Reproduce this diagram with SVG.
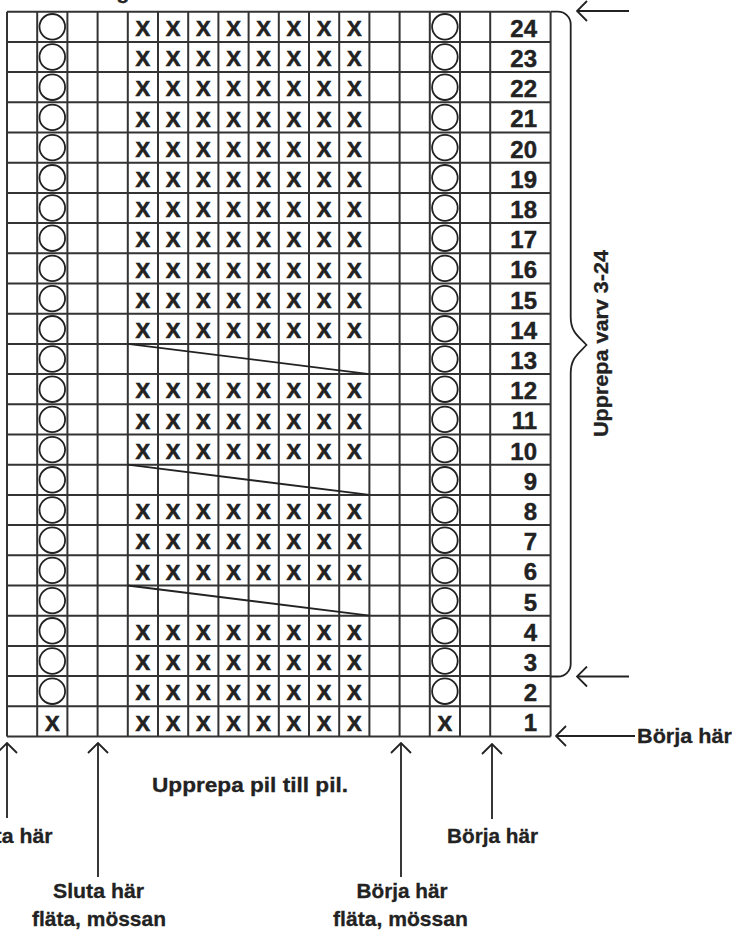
<svg xmlns="http://www.w3.org/2000/svg" width="732" height="931" viewBox="0 0 732 931">
<style>
.grid{fill:none;stroke:#333;stroke-width:2}
.diag{fill:none;stroke:#222;stroke-width:1.8}
.circ{fill:none;stroke:#222;stroke-width:1.8}
.x{font-family:"Liberation Sans",Arial,sans-serif;font-weight:bold;font-size:22px;fill:#222;stroke:#222;stroke-width:0.6;text-anchor:middle}
.num{font-family:"Liberation Sans",Arial,sans-serif;font-weight:bold;font-size:24px;fill:#222;stroke:#222;stroke-width:0.4;text-anchor:end}
.lbl{font-family:"Liberation Sans",Arial,sans-serif;font-weight:bold;font-size:21px;fill:#222;stroke:#222;stroke-width:0.3;text-anchor:middle}
.arr{fill:none;stroke:#222;stroke-width:1.8}
</style>
<defs>
<marker id="open" viewBox="0 0 12 22" refX="1" refY="11" markerWidth="12" markerHeight="22" markerUnits="userSpaceOnUse" orient="auto">
<path d="M11 1L1 11L11 21" fill="none" stroke="#222" stroke-width="1.8"/>
</marker>
</defs>
<rect width="732" height="931" fill="#fff"/>
<text class="lbl" x="123" y="-1">g</text>
<g id="grid">
<path class="grid" d="M7 11.7H550.6M7 41.9H550.6M7 72.1H550.6M7 102.3H550.6M7 132.5H550.6M7 162.7H550.6M7 192.9H550.6M7 223.1H550.6M7 253.3H550.6M7 283.5H550.6M7 313.7H550.6M7 343.9H550.6M7 374.1H550.6M7 404.3H550.6M7 434.5H550.6M7 464.7H550.6M7 494.9H550.6M7 525.1H550.6M7 555.3H550.6M7 585.5H550.6M7 615.7H550.6M7 645.9H550.6M7 676.1H550.6M7 706.3H550.6M7 736.5H550.6
M7 11.7V736.5M37.2 11.7V736.5M67.4 11.7V736.5M97.6 11.7V736.5M127.8 11.7V736.5M158 11.7V736.5M188.2 11.7V736.5M218.4 11.7V736.5M248.6 11.7V736.5M278.8 11.7V736.5M309 11.7V736.5M339.2 11.7V736.5M369.4 11.7V736.5M399.6 11.7V736.5M429.8 11.7V736.5M460 11.7V736.5M490.2 11.7V736.5M550.6 11.7V736.5"/>
<path class="diag" d="M127.8 343.9L369.4 374.1M127.8 464.7L369.4 494.9M127.8 585.5L369.4 615.7"/>
</g>
<g id="circles">
<g class="circ">
<circle cx="52.3" cy="26.8" r="12.8"/><circle cx="52.3" cy="57" r="12.8"/><circle cx="52.3" cy="87.2" r="12.8"/><circle cx="52.3" cy="117.4" r="12.8"/><circle cx="52.3" cy="147.6" r="12.8"/><circle cx="52.3" cy="177.8" r="12.8"/><circle cx="52.3" cy="208" r="12.8"/><circle cx="52.3" cy="238.2" r="12.8"/><circle cx="52.3" cy="268.4" r="12.8"/><circle cx="52.3" cy="298.6" r="12.8"/><circle cx="52.3" cy="328.8" r="12.8"/><circle cx="52.3" cy="359" r="12.8"/><circle cx="52.3" cy="389.2" r="12.8"/><circle cx="52.3" cy="419.4" r="12.8"/><circle cx="52.3" cy="449.6" r="12.8"/><circle cx="52.3" cy="479.8" r="12.8"/><circle cx="52.3" cy="510" r="12.8"/><circle cx="52.3" cy="540.2" r="12.8"/><circle cx="52.3" cy="570.4" r="12.8"/><circle cx="52.3" cy="600.6" r="12.8"/><circle cx="52.3" cy="630.8" r="12.8"/><circle cx="52.3" cy="661" r="12.8"/><circle cx="52.3" cy="691.2" r="12.8"/>
<circle cx="444.9" cy="26.8" r="12.8"/><circle cx="444.9" cy="57" r="12.8"/><circle cx="444.9" cy="87.2" r="12.8"/><circle cx="444.9" cy="117.4" r="12.8"/><circle cx="444.9" cy="147.6" r="12.8"/><circle cx="444.9" cy="177.8" r="12.8"/><circle cx="444.9" cy="208" r="12.8"/><circle cx="444.9" cy="238.2" r="12.8"/><circle cx="444.9" cy="268.4" r="12.8"/><circle cx="444.9" cy="298.6" r="12.8"/><circle cx="444.9" cy="328.8" r="12.8"/><circle cx="444.9" cy="359" r="12.8"/><circle cx="444.9" cy="389.2" r="12.8"/><circle cx="444.9" cy="419.4" r="12.8"/><circle cx="444.9" cy="449.6" r="12.8"/><circle cx="444.9" cy="479.8" r="12.8"/><circle cx="444.9" cy="510" r="12.8"/><circle cx="444.9" cy="540.2" r="12.8"/><circle cx="444.9" cy="570.4" r="12.8"/><circle cx="444.9" cy="600.6" r="12.8"/><circle cx="444.9" cy="630.8" r="12.8"/><circle cx="444.9" cy="661" r="12.8"/><circle cx="444.9" cy="691.2" r="12.8"/>
</g>
</g>
<g id="crosses" class="x">
<text x="142.9 173.1 203.3 233.5 263.7 293.9 324.1 354.3" y="36">XXXXXXXX</text>
<text x="142.9 173.1 203.3 233.5 263.7 293.9 324.1 354.3" y="66.2">XXXXXXXX</text>
<text x="142.9 173.1 203.3 233.5 263.7 293.9 324.1 354.3" y="96.4">XXXXXXXX</text>
<text x="142.9 173.1 203.3 233.5 263.7 293.9 324.1 354.3" y="126.6">XXXXXXXX</text>
<text x="142.9 173.1 203.3 233.5 263.7 293.9 324.1 354.3" y="156.8">XXXXXXXX</text>
<text x="142.9 173.1 203.3 233.5 263.7 293.9 324.1 354.3" y="187">XXXXXXXX</text>
<text x="142.9 173.1 203.3 233.5 263.7 293.9 324.1 354.3" y="217.2">XXXXXXXX</text>
<text x="142.9 173.1 203.3 233.5 263.7 293.9 324.1 354.3" y="247.4">XXXXXXXX</text>
<text x="142.9 173.1 203.3 233.5 263.7 293.9 324.1 354.3" y="277.6">XXXXXXXX</text>
<text x="142.9 173.1 203.3 233.5 263.7 293.9 324.1 354.3" y="307.8">XXXXXXXX</text>
<text x="142.9 173.1 203.3 233.5 263.7 293.9 324.1 354.3" y="338">XXXXXXXX</text>
<text x="142.9 173.1 203.3 233.5 263.7 293.9 324.1 354.3" y="398.4">XXXXXXXX</text>
<text x="142.9 173.1 203.3 233.5 263.7 293.9 324.1 354.3" y="428.6">XXXXXXXX</text>
<text x="142.9 173.1 203.3 233.5 263.7 293.9 324.1 354.3" y="458.8">XXXXXXXX</text>
<text x="142.9 173.1 203.3 233.5 263.7 293.9 324.1 354.3" y="519.2">XXXXXXXX</text>
<text x="142.9 173.1 203.3 233.5 263.7 293.9 324.1 354.3" y="549.4">XXXXXXXX</text>
<text x="142.9 173.1 203.3 233.5 263.7 293.9 324.1 354.3" y="579.6">XXXXXXXX</text>
<text x="142.9 173.1 203.3 233.5 263.7 293.9 324.1 354.3" y="640">XXXXXXXX</text>
<text x="142.9 173.1 203.3 233.5 263.7 293.9 324.1 354.3" y="670.2">XXXXXXXX</text>
<text x="142.9 173.1 203.3 233.5 263.7 293.9 324.1 354.3" y="700.4">XXXXXXXX</text>
<text x="52.3 142.9 173.1 203.3 233.5 263.7 293.9 324.1 354.3 444.9" y="730.6">XXXXXXXXXX</text>
</g>
<g id="row-numbers" class="num">
<text x="537" y="36.7">24</text><text x="537" y="66.9">23</text><text x="537" y="97.1">22</text><text x="537" y="127.3">21</text><text x="537" y="157.5">20</text><text x="537" y="187.7">19</text><text x="537" y="217.9">18</text><text x="537" y="248.1">17</text><text x="537" y="278.3">16</text><text x="537" y="308.5">15</text><text x="537" y="338.7">14</text><text x="537" y="368.9">13</text><text x="537" y="399.1">12</text><text x="537" y="429.3">11</text><text x="537" y="459.5">10</text><text x="537" y="489.7">9</text><text x="537" y="519.9">8</text><text x="537" y="550.1">7</text><text x="537" y="580.3">6</text><text x="537" y="610.5">5</text><text x="537" y="640.7">4</text><text x="537" y="670.9">3</text><text x="537" y="701.1">2</text><text x="537" y="731.3">1</text>
</g>
<g id="brace">
<path class="arr" d="M551 11.7H558A12.7 12.7 0 0 1 570.7 24.4V316.7C570.7 332 578 336 586.5 345C578 354 570.7 358 570.7 373.3V664A12.5 12.5 0 0 1 558.2 676.5H551"/>
<text class="lbl" transform="translate(608 343.5) rotate(-90)" x="0" y="0" textLength="187" lengthAdjust="spacingAndGlyphs">Upprepa varv 3-24</text>
</g>
<g id="connectors" class="arr">
<path d="M577 11H629" marker-start="url(#open)"/>
<path d="M577 676.5H629" marker-start="url(#open)"/>
<path d="M556 736H635" marker-start="url(#open)"/>
<path d="M7 743V818" marker-start="url(#open)"/>
<path d="M98 743V877" marker-start="url(#open)"/>
<path d="M401 743V877" marker-start="url(#open)"/>
<path d="M492 744V819" marker-start="url(#open)"/>
</g>
<g id="labels" class="lbl">
<text x="684.5" y="743" textLength="95" lengthAdjust="spacingAndGlyphs">Börja här</text>
<text x="250" y="792" textLength="196" lengthAdjust="spacingAndGlyphs">Upprepa pil till pil.</text>
<text x="7" y="843" textLength="91" lengthAdjust="spacingAndGlyphs">Sluta här</text>
<text x="98.5" y="898" textLength="91" lengthAdjust="spacingAndGlyphs">Sluta här</text>
<text x="99" y="926" textLength="134" lengthAdjust="spacingAndGlyphs">fläta, mössan</text>
<text x="402" y="898" textLength="91" lengthAdjust="spacingAndGlyphs">Börja här</text>
<text x="400.5" y="926" textLength="135" lengthAdjust="spacingAndGlyphs">fläta, mössan</text>
<text x="492.5" y="843" textLength="91" lengthAdjust="spacingAndGlyphs">Börja här</text>
</g>
</svg>
